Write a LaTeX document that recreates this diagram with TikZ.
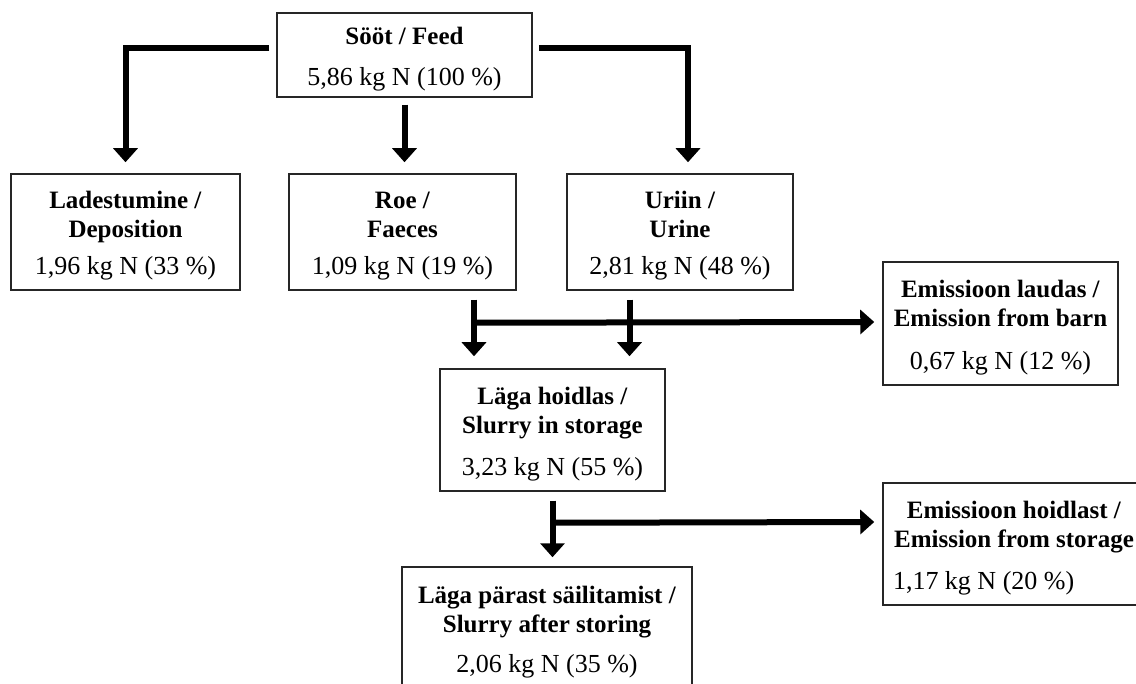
\documentclass[tikz,border=0pt]{standalone}
\usepackage{fontspec}
\setmainfont{Liberation Serif}
\usepackage{tikz}
\usetikzlibrary{arrows.meta}
\usetikzlibrary{calc}

\newcommand{\amt}{\fontsize{26}{29}\selectfont}
\newcommand{\boxstrut}{\rule{0pt}{25pt}}

\begin{document}
\begin{tikzpicture}[x=1pt,y=-1pt]
	\tikzstyle{box}=[draw=black!85, line width=1.5pt, inner sep=0pt, align=center, font=\fontsize{25}{29}\selectfont]
	\tikzstyle{flow}=[line width=6pt, -{Triangle[width=24pt,length=14pt]}]
	\fill[white] (0,0) rectangle (1136,684);
	\useasboundingbox (0,0) rectangle (1136,684);

	\node[box, minimum width=255pt, minimum height=84pt] (F) at (404.5,55) {\boxstrut\textbf{Sööt / Feed}\\[12pt]\amt 5,86 kg N (100 \%)};
	\node[box, minimum width=229pt, minimum height=116pt] (D) at (125.5,232) {\boxstrut\textbf{Ladestumine /}\\\textbf{Deposition}\\[8pt]\amt 1,96 kg N (33 \%)};
	\node[box, minimum width=227pt, minimum height=116pt] (R) at (402.5,232) {\boxstrut\textbf{Roe /}\\\textbf{Faeces}\\[8pt]\amt 1,09 kg N (19 \%)};
	\node[box, minimum width=226pt, minimum height=116pt] (U) at (680,232) {\boxstrut\textbf{Uriin /}\\\textbf{Urine}\\[8pt]\amt 2,81 kg N (48 \%)};
	\node[box, minimum width=235pt, minimum height=123pt] (B) at (1000.5,323.5) {\boxstrut\textbf{Emissioon laudas /}\\\textbf{Emission from barn}\\[14pt]\amt 0,67 kg N (12 \%)};
	\node[box, minimum width=225pt, minimum height=122pt] (S) at (552.5,430) {\boxstrut\textbf{Läga hoidlas /}\\\textbf{Slurry in storage}\\[13pt]\amt 3,23 kg N (55 \%)};
	\node[box, minimum width=290pt, minimum height=122pt] (A) at (547,628) {\boxstrut\textbf{Läga pärast säilitamist /}\\\textbf{Slurry after storing}\\[11pt]\amt 2,06 kg N (35 \%)};
	\node[box, minimum width=262pt, minimum height=122pt] (E) at (1014,544) {\boxstrut\textbf{Emissioon hoidlast /}\\\textbf{Emission from storage}\\[13pt]\makebox[242pt][l]{\amt 1,17 kg N (20 \%)}};

	% feed splits three ways
	\draw[flow] ($(F.west)+(-7,-7)$) -| ($(D.north)+(0,-11)$);
	\draw[flow] ($(F.south)+(0,7)$) -- ($(F.south |- R.north)+(0,-11)$);
	\draw[flow] ($(F.east)+(6,-7)$) -| ($(U.north)+(8,-11)$);

	% faeces and urine into storage, loss from barn
	\coordinate (r1) at ($(R.south)+(71.5,0)$);
	\coordinate (u1) at ($(U.south)+(-50.5,0)$);
	\draw[flow] ($(r1)+(0,9)$) -- ($(r1 |- S.north)+(0,-12)$);
	\draw[flow] ($(u1)+(0,9)$) -- ($(u1 |- S.north)+(0,-12)$);
	\draw[flow] ($(r1)+(0,32)$) -- ($(B.west)+(-8,-1.5)$);

	% storage
	\draw[flow] ($(S.south)+(0,9)$) -- ($(S.south |- A.north)+(0,-9)$);
	\draw[flow] ($(S.south)+(0,31)$) -- ($(E.west)+(-8,-22)$);
\end{tikzpicture}
\end{document}
